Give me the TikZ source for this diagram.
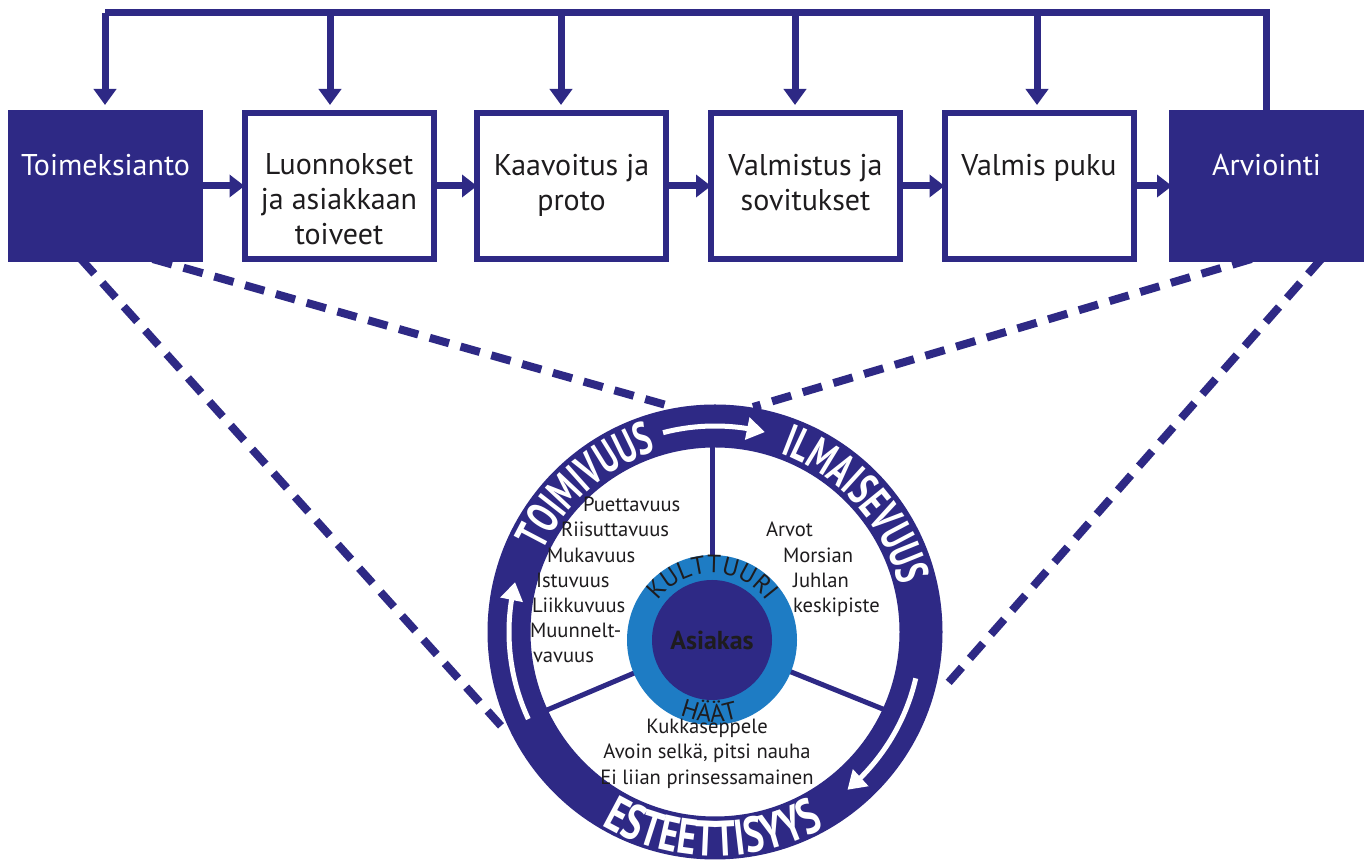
\documentclass[tikz,border=0pt]{standalone}
\usepackage{fontspec}
\setmainfont{PT Sans}
\newfontfamily\ringfont{PT Sans}[FakeStretch=0.68]
\newfontfamily\ringfontb{PT Sans}[FakeStretch=0.74]
\usetikzlibrary{arrows.meta,bending,decorations.text,calc}
\definecolor{navy}{RGB}{46,41,133}
\definecolor{lblue}{RGB}{30,124,196}
\definecolor{ink}{RGB}{30,28,30}
\begin{document}
\begin{tikzpicture}[x=0.5pt,y=0.5pt,
  every node/.style={inner sep=0pt, outer sep=0pt},
  stage/.style={rectangle, draw=navy, line width=3pt, fill=white, minimum width=94.5pt, minimum height=73pt},
  stagedark/.style={stage, fill=navy},
  lbl/.style={font=\fontsize{15}{17.5}\selectfont, align=center, text=ink, anchor=north},
  lbldark/.style={lbl, text=white},
  flow/.style={navy, line width=3.5pt, -{Triangle[width=11pt,length=7.5pt]}},
  fb/.style={navy, line width=3.5pt, line join=miter},
  fbarrow/.style={navy, line width=3.5pt, -{Triangle[width=11pt,length=8pt]}, shorten >=4pt},
  link/.style={navy, line width=4pt, dash pattern=on 10pt off 6pt},
  spoke/.style={navy, line width=2.5pt},
  ringarrow/.style={white, line width=2.5pt, -{Triangle[width=11pt,length=9pt]}},
  item/.style={font=\fontsize{10.3}{12}\selectfont, text=ink, anchor=base west},
  itemc/.style={font=\fontsize{10.3}{12}\selectfont, text=ink, anchor=base},
]
\useasboundingbox (0,0) rectangle (1370,861);
\fill[white] (0,0) rectangle (1370,861);

% process boxes
\node[stagedark] (b1) at (105.5,675) {};
\node[stage] (b2) at (339,675) {};
\node[stage] (b3) at (571.5,675) {};
\node[stage] (b4) at (805.5,675) {};
\node[stage] (b5) at (1039,675) {};
\node[stagedark] (b6) at (1266.5,675) {};

\node[lbldark] (t1) at (105.5,707) {Toimeksianto};
\node[lbl] (t2) at (339,707) {Luonnokset\\ja asiakkaan\\toiveet};
\node[lbl] (t3) at (571.5,707) {Kaavoitus ja\\proto};
\node[lbl] (t4) at (805.5,707) {Valmistus ja\\sovitukset};
\node[lbl] (t5) at (1039,707) {Valmis puku};
\node[lbldark] (t6) at (1266.5,707) {Arviointi};

% flow arrows
\draw[flow] (b1) -- (b2);
\draw[flow] (b2) -- (b3);
\draw[flow] (b3) -- (b4);
\draw[flow] (b4) -- (b5);
\draw[flow] (b5) -- (b6);

% feedback loop
\coordinate (top) at (105,848);
\coordinate (d2) at (330,848);
\coordinate (d3) at (561,848);
\coordinate (d4) at (795,848);
\coordinate (d5) at (1037,848);
\draw[fb] (b6.north) |- (top);
\draw[fbarrow] (top) -- (top |- b1.north);
\draw[fbarrow] (d2) -- (d2 |- b2.north);
\draw[fbarrow] (d3) -- (d3 |- b3.north);
\draw[fbarrow] (d4) -- (d4 |- b4.north);
\draw[fbarrow] (d5) -- (d5 |- b5.north);

% wheel
\coordinate (C) at (715,229);
\coordinate (I) at (712,221);
\coordinate (r1) at (502,134);
\coordinate (r2) at (673,454);
\coordinate (r3) at (753,454);
\coordinate (r4) at (942,171);

\draw[link] ($(b1.south west)!0.37!(b1.south east)$) -- (r1);
\draw[link] ($(b1.south west)!0.75!(b1.south east)$) -- (r2);
\draw[link] ($(b6.south west)!0.42!(b6.south east)$) -- (r3);
\draw[link] ($(b6.south west)!0.79!(b6.south east)$) -- (r4);

\draw[spoke] (I) ++(90:80) -- ++(90:120);
\draw[spoke] (I) ++(203:80) -- ++(203:120);
\draw[spoke] (I) ++(338:80) -- ++(338:120);

\draw[navy, line width=21.5pt] (C) circle[radius=206];

\draw[ringarrow] ($(C)+(104.6:206)$) arc[start angle=104.6, end angle=76, radius=206];
\draw[ringarrow] ($(C)+(-13:206)$) arc[start angle=-13, end angle=-50, radius=206];
\draw[ringarrow] ($(C)+(205:206)$) arc[start angle=205, end angle=166, radius=206];

\path[decorate, decoration={text along path, text align=center, text color=white,
  text={|\ringfont\bfseries\fontsize{23}{23}\selectfont|TOIMIVUUS}}]
  ($(C)+(176.5:190)$) arc[start angle=176.5, end angle=86.5, radius=190];
\path[decorate, decoration={text along path, text align=center, text color=white,
  text={|\ringfont\bfseries\fontsize{23}{23}\selectfont|ILMAISEVUUS}}]
  ($(C)+(87:190)$) arc[start angle=87, end angle=-3, radius=190];
\path[decorate, decoration={text along path, text align=center, text color=white,
  text={|\ringfontb\bfseries\fontsize{25}{25}\selectfont|ESTEETTISYYS}}]
  ($(C)+(219.5:224)$) arc[start angle=219.5, end angle=319.5, radius=224];

\node[circle, fill=lblue, minimum size=85pt] (culture) at (I) {};
\node[circle, fill=navy, minimum size=60pt, font=\bfseries\fontsize{13}{15}\selectfont, text=ink] (client) at (I) {Asiakas};

\path[decorate, decoration={text along path, text align=center, text color=ink,
  text={|\fontsize{12.5}{13}\selectfont|KULTTUURI}}]
  ($(I)+(170:67)$) arc[start angle=170, end angle=10, radius=67];
\path[decorate, decoration={text along path, text align=center, text color=ink,
  text={|\fontsize{12.5}{13}\selectfont|HÄÄT}}]
  ($(I)+(198:82)$) arc[start angle=198, end angle=338, radius=82];

% sector texts
\node[item] (p1) at (583,349) {Puettavuus};
\node[item] (p2) at (561,324) {Riisuttavuus};
\node[item] (p3) at (547,298) {Mukavuus};
\node[item] (p4) at (536,273) {Istuvuus};
\node[item] (p5) at (532,248) {Liikkuvuus};
\node[item] (p6) at (530,223) {Muunnelt-};
\node[item] (p7) at (533,198) {vavuus};

\node[item] (e1) at (766,324) {Arvot};
\node[item] (e2) at (783,298) {Morsian};
\node[item] (e3) at (793,273) {Juhlan};
\node[item] (e4) at (793,248) {keskipiste};

\node[itemc] (a1) at (707,127) {Kukkaseppele};
\node[itemc] (a2) at (707,102) {Avoin selkä, pitsi nauha};
\node[itemc] (a3) at (707,76) {Ei liian prinsessamainen};
\end{tikzpicture}
\end{document}
